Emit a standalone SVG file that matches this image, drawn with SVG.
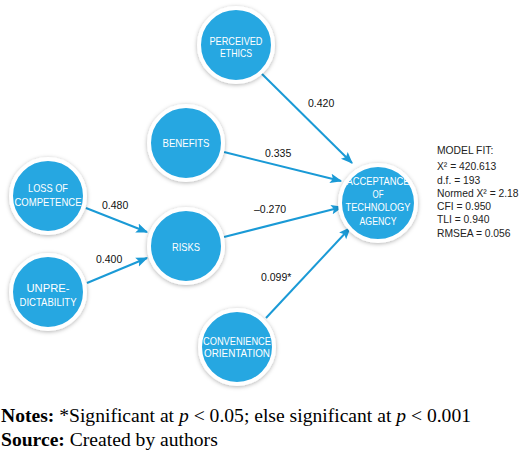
<svg xmlns="http://www.w3.org/2000/svg" width="520" height="460" viewBox="0 0 520 460">
<style>
.node circle{fill:#27a7e1;stroke:#fff;stroke-width:4;filter:url(#sh)}
.node text{font-family:"Liberation Sans",Arial,sans-serif;font-size:10.8px;fill:#fff;text-anchor:middle}
.edge{stroke:#1a9ad6;stroke-width:2;fill:none;marker-end:url(#arr)}
.lbl{font-family:"Liberation Sans",Arial,sans-serif;font-size:10.5px;fill:#111}
.fit{font-family:"Liberation Sans",Arial,sans-serif;font-size:10.3px;fill:#222}
.note{font-family:"Liberation Serif","Times New Roman",serif;font-size:19.6px;fill:#000}
</style>
<defs>
<filter id="sh" x="-30%" y="-30%" width="160%" height="160%">
<feDropShadow dx="0" dy="1" stdDeviation="2" flood-color="#000" flood-opacity="0.3"/>
</filter>
<marker id="arr" viewBox="0 0 10 10" refX="9" refY="5" markerWidth="6" markerHeight="6" orient="auto" markerUnits="strokeWidth">
<path d="M0,1 L10,5 L0,9 L2,5 Z" fill="#1a9ad6"/>
</marker>
</defs>
<g id="connectors">
<line class="edge" x1="261" y1="73" x2="352" y2="163"/>
<line class="edge" x1="224" y1="152" x2="341" y2="181"/>
<line class="edge" x1="86" y1="208" x2="147" y2="232"/>
<line class="edge" x1="87" y1="283" x2="147" y2="258"/>
<line class="edge" x1="224" y1="237" x2="342" y2="207"/>
<line class="edge" x1="266" y1="318" x2="350" y2="228"/>
<text class="lbl" x="308" y="107">0.420</text>
<text class="lbl" x="265" y="157">0.335</text>
<text class="lbl" x="102" y="209">0.480</text>
<text class="lbl" x="96" y="263">0.400</text>
<text class="lbl" x="254" y="213">–0.270</text>
<text class="lbl" x="261" y="281">0.099*</text>
</g>
<g id="perceived-ethics" class="node"><circle cx="236" cy="45" r="37"/><text x="236" y="45" textLength="53" lengthAdjust="spacingAndGlyphs">PERCEIVED</text><text x="236" y="57" textLength="32" lengthAdjust="spacingAndGlyphs">ETHICS</text></g>
<g id="benefits" class="node"><circle cx="186" cy="143" r="37"/><text x="186" y="147" textLength="47" lengthAdjust="spacingAndGlyphs">BENEFITS</text></g>
<g id="loss-of-competence" class="node"><circle cx="48" cy="196" r="37"/><text x="48" y="192" textLength="40" lengthAdjust="spacingAndGlyphs">LOSS OF</text><text x="48" y="206" textLength="67" lengthAdjust="spacingAndGlyphs">COMPETENCE</text></g>
<g id="unpredictability" class="node"><circle cx="48" cy="292" r="37"/><text x="48" y="292" textLength="43" lengthAdjust="spacingAndGlyphs">UNPRE-</text><text x="48" y="306" textLength="57" lengthAdjust="spacingAndGlyphs">DICTABILITY</text></g>
<g id="risks" class="node"><circle cx="186" cy="246" r="37"/><text x="186" y="251" textLength="28" lengthAdjust="spacingAndGlyphs">RISKS</text></g>
<g id="convenience-orientation" class="node"><circle cx="237" cy="347" r="37"/><text x="237" y="345" textLength="68" lengthAdjust="spacingAndGlyphs">CONVENIENCE</text><text x="237" y="357" textLength="66" lengthAdjust="spacingAndGlyphs">ORIENTATION</text></g>
<g id="acceptance" class="node"><circle cx="378" cy="203" r="38"/><text x="378" y="185" textLength="63" lengthAdjust="spacingAndGlyphs">ACCEPTANCE</text><text x="378" y="198" textLength="11" lengthAdjust="spacingAndGlyphs">OF</text><text x="378" y="211" textLength="65" lengthAdjust="spacingAndGlyphs">TECHNOLOGY</text><text x="378" y="225" textLength="37" lengthAdjust="spacingAndGlyphs">AGENCY</text></g>
<g id="model-fit">
<text class="fit" x="437" y="154">MODEL FIT:</text>
<text class="fit" x="437" y="170">X² = 420.613</text>
<text class="fit" x="437" y="184">d.f. = 193</text>
<text class="fit" x="437" y="197">Normed X² = 2.18</text>
<text class="fit" x="437" y="210">CFI = 0.950</text>
<text class="fit" x="437" y="223">TLI = 0.940</text>
<text class="fit" x="437" y="237">RMSEA = 0.056</text>
</g>
<text class="note" x="1" y="422"><tspan font-weight="bold">Notes:</tspan> *Significant at <tspan font-style="italic">p</tspan> &lt; 0.05; else significant at <tspan font-style="italic">p</tspan> &lt; 0.001</text>
<text class="note" x="1" y="446"><tspan font-weight="bold">Source:</tspan> Created by authors</text>
</svg>
